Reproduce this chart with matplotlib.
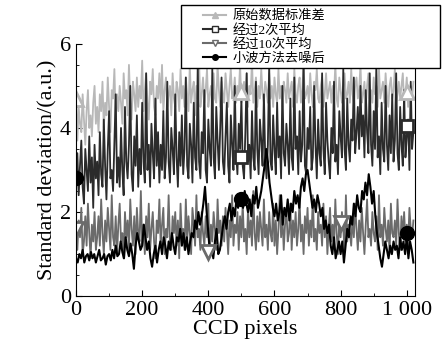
import matplotlib.pyplot as plt
import numpy as np
from matplotlib.lines import Line2D
from matplotlib.patches import Rectangle
from matplotlib.ticker import MultipleLocator

plt.rcParams['font.family'] = ['Liberation Serif', 'Noto Sans CJK SC']
plt.rcParams['axes.unicode_minus'] = False

# CCD 像素位置: 噪声曲线每4个像素一点, 小波曲线每5个像素一点
pixels = np.arange(0, 1024, 4)
pixels_w = np.arange(0, 1025, 5)

# 原始数据标准差
raw_std = [
    4.7, 3.7, 4.5, 4.1, 3.9, 4.8, 4.2, 3.6, 4.4, 4.9, 4.0, 4.3, 3.8, 4.6, 5.0, 4.1,
    4.5, 3.9, 4.8, 4.4, 5.1, 4.0, 4.6, 4.3, 5.2, 4.5, 3.9, 4.9, 4.7, 5.4, 4.2, 4.8,
    4.4, 5.0, 4.6, 4.1, 5.3, 4.7, 4.9, 4.3, 5.5, 4.6, 4.2, 5.1, 4.8, 4.4, 5.2, 4.5,
    5.0, 4.7, 5.6, 4.4, 4.9, 5.3, 4.6, 4.2, 5.1, 4.8, 5.4, 4.5, 4.3, 5.0, 4.7, 5.3,
    4.6, 5.5, 4.4, 4.9, 5.2, 4.5, 4.8, 5.0, 4.3, 5.3, 4.7, 4.5, 5.1, 4.9, 4.4, 5.4,
    4.7, 5.0, 4.5, 5.2, 4.8, 4.4, 5.5, 4.6, 4.9, 5.1, 4.3, 5.0, 4.7, 5.6, 4.5, 4.8,
    5.2, 4.6, 4.9, 5.4, 4.5, 4.8, 5.0, 4.4, 5.3, 4.7, 4.6, 5.5, 4.9, 4.5, 5.1, 4.8,
    4.6, 5.3, 4.9, 4.5, 5.0, 5.4, 4.7, 4.8, 5.2, 4.6, 5.0, 4.8, 5.5, 4.6, 4.9, 5.1,
    4.7, 5.3, 4.5, 5.0, 4.8, 5.6, 4.6, 4.9, 5.2, 4.5, 5.0, 4.7, 5.4, 4.8, 4.6, 5.1,
    4.9, 4.6, 5.3, 4.7, 5.0, 4.5, 5.2, 4.8, 4.6, 5.4, 4.7, 5.0, 4.5, 5.1, 4.9, 4.6,
    5.3, 4.7, 4.9, 5.1, 4.5, 5.4, 4.8, 4.6, 5.0, 5.2, 4.6, 4.9, 5.5, 4.7, 4.8, 5.0,
    4.6, 5.3, 4.8, 4.5, 5.1, 4.9, 5.4, 4.7, 4.6, 5.0, 5.2, 4.5, 4.8, 5.3, 4.7, 4.9,
    5.1, 4.6, 5.0, 4.8, 5.5, 4.7, 4.5, 5.2, 4.9, 4.6, 5.0, 5.3, 4.7, 4.8, 5.1, 4.6,
    5.4, 4.8, 4.6, 5.0, 5.2, 4.7, 4.9, 5.5, 4.6, 4.8, 5.1, 4.5, 5.0, 5.3, 4.7, 4.9,
    4.6, 5.2, 4.8, 5.0, 4.5, 5.4, 4.7, 4.9, 5.1, 4.6, 5.3, 4.8, 4.5, 5.0, 5.2, 4.7,
    4.9, 5.4, 4.6, 4.8, 5.1, 4.7, 5.0, 5.3, 4.6, 4.8, 5.2, 4.5, 4.9, 5.0, 4.7, 5.1,
]

# 经过2次平均
avg2_std = [
    2.9, 3.4, 2.4, 3.1, 3.7, 2.6, 2.2, 3.5, 3.0, 2.5, 3.8, 2.7, 3.3, 2.1, 3.6, 2.8,
    3.2, 2.4, 3.9, 2.9, 2.6, 4.2, 3.1, 2.3, 3.5, 4.4, 2.8, 3.0, 2.5, 3.7, 4.8, 2.7,
    3.3, 2.6, 4.0, 3.0, 2.4, 4.5, 3.2, 2.8, 3.6, 5.0, 2.9, 2.5, 3.8, 3.1, 4.3, 2.6,
    3.5, 2.9, 4.6, 3.2, 2.7, 5.3, 3.0, 3.6, 2.6, 4.1, 3.4, 2.8, 4.7, 3.1, 3.9, 2.7,
    3.6, 3.0, 4.4, 2.8, 3.3, 5.1, 3.2, 2.7, 4.0, 3.5, 2.9, 4.8, 3.3, 2.6, 3.9, 3.1,
    4.3, 2.9, 3.5, 5.2, 3.1, 2.8, 4.1, 3.6, 2.7, 4.6, 3.3, 3.0, 5.5, 3.2, 2.8, 3.9,
    3.4, 4.9, 3.0, 2.7, 4.2, 3.5, 3.1, 5.4, 3.3, 2.8, 4.5, 3.7, 3.0, 4.0, 5.2, 3.2,
    2.9, 3.8, 4.6, 3.1, 2.7, 4.3, 3.6, 3.0, 5.0, 3.4, 2.9, 4.1, 3.5, 4.7, 3.1, 2.8,
    3.9, 5.3, 3.2, 3.6, 2.8, 4.4, 3.3, 3.0, 5.1, 3.5, 2.9, 4.2, 3.7, 3.1, 4.8, 3.3,
    2.8, 3.6, 5.5, 3.2, 3.0, 4.3, 3.5, 2.9, 4.6, 3.3, 3.8, 2.8, 5.0, 3.4, 3.1, 4.1,
    3.6, 2.9, 4.7, 3.3, 3.0, 5.2, 3.5, 3.8, 2.9, 4.4, 3.2, 3.6, 5.6, 3.1, 2.9, 4.0,
    3.5, 4.5, 3.0, 3.3, 5.0, 3.6, 2.8, 4.2, 3.4, 3.1, 5.3, 3.5, 2.9, 4.6, 3.7, 3.2,
    2.8, 4.0, 3.4, 5.1, 3.2, 3.6, 2.9, 4.4, 3.8, 3.3, 5.4, 3.5, 3.0, 4.7, 3.6, 3.2,
    4.2, 3.7, 5.2, 3.4, 3.9, 4.5, 3.5, 5.0, 3.8, 4.3, 3.3, 4.9, 3.9, 3.4, 5.3, 3.6,
    3.1, 4.4, 3.5, 5.5, 3.3, 3.8, 2.9, 4.6, 3.5, 3.2, 5.0, 3.6, 3.0, 4.3, 3.4, 4.8,
    3.2, 3.7, 5.3, 3.4, 3.0, 4.5, 3.6, 3.1, 4.9, 3.3, 3.8, 4.2, 3.0, 5.1, 3.5, 3.9,
]

# 经过10次平均
avg10_std = [
    1.6, 1.1, 1.8, 1.4, 2.1, 1.0, 1.3, 1.9, 1.2, 2.2, 1.5, 0.9, 1.7, 1.3, 2.0, 1.1,
    1.4, 1.9, 1.2, 2.3, 1.5, 1.0, 1.8, 1.3, 2.1, 1.6, 1.1, 2.4, 1.4, 1.2, 1.9, 1.0,
    1.7, 2.2, 1.3, 1.5, 0.9, 2.0, 1.4, 1.8, 1.1, 2.3, 1.6, 1.2, 1.9, 1.0, 2.1, 1.5,
    1.3, 2.5, 1.2, 1.7, 1.0, 1.9, 1.4, 2.2, 1.1, 1.6, 2.0, 1.3, 0.9, 1.8, 1.5, 2.3,
    1.2, 1.7, 2.1, 1.0, 1.6, 1.4, 2.4, 1.3, 1.1, 1.9, 1.5, 2.0, 1.2, 1.8, 0.9, 2.2,
    1.4, 1.6, 1.1, 2.3, 1.3, 1.9, 1.5, 1.0, 2.1, 1.7, 1.2, 2.4, 1.4, 1.6, 1.1, 2.0,
    1.5, 1.2, 1.9, 1.4, 2.2, 1.0, 1.7, 1.3, 2.0, 1.6, 1.1, 2.3, 1.5, 1.8, 1.2, 1.9,
    1.3, 2.1, 1.6, 1.0, 1.8, 1.4, 2.4, 1.2, 1.7, 1.5, 2.0, 1.1, 1.9, 1.4, 2.2, 1.3,
    1.6, 1.0, 2.1, 1.4, 1.8, 1.2, 2.5, 1.5, 1.1, 1.9, 1.3, 2.0, 1.6, 1.2, 2.3, 1.4,
    1.7, 1.1, 2.0, 1.5, 1.3, 2.2, 1.2, 1.8, 1.0, 1.6, 2.4, 1.4, 1.9, 1.1, 1.7, 2.1,
    1.3, 1.5, 2.2, 1.1, 1.8, 1.4, 2.0, 1.2, 1.6, 2.3, 1.3, 1.7, 1.0, 1.9, 1.5, 2.1,
    1.2, 1.8, 1.4, 2.4, 1.3, 1.6, 1.1, 2.0, 1.5, 1.7, 1.2, 2.2, 1.4, 1.9, 1.0, 1.6,
    2.1, 1.3, 1.7, 1.2, 2.3, 1.5, 1.0, 1.8, 1.4, 2.0, 1.6, 1.1, 2.4, 1.3, 1.7, 1.5,
    1.2, 1.9, 1.4, 2.2, 1.6, 1.1, 1.8, 1.3, 2.1, 1.5, 1.0, 1.7, 2.3, 1.4, 1.6, 1.2,
    2.0, 1.5, 1.3, 1.9, 1.1, 2.4, 1.4, 1.7, 1.2, 2.1, 1.6, 1.3, 1.8, 1.0, 2.2, 1.5,
    1.4, 1.8, 1.2, 2.3, 1.5, 1.1, 1.9, 1.4, 2.0, 1.3, 1.7, 1.2, 2.1, 1.6, 1.4, 1.8,
]

# 小波方法去噪后
wavelet_std = [
    0.9, 0.8, 1.0, 0.9, 1.1, 0.8, 0.95, 1.0, 0.85, 1.05, 0.9, 1.0, 0.8, 0.95, 1.1, 0.85, 0.9, 1.0, 0.75, 0.95,
    1.0, 0.85, 1.1, 0.9, 1.2, 0.95, 1.0, 1.3, 1.05, 0.9, 1.4, 1.1, 0.95, 1.25, 1.0, 0.65, 1.2, 1.5, 1.3, 1.1,
    1.2, 1.7, 1.4, 1.1, 1.3, 0.9, 0.7, 1.0, 1.2, 0.8, 1.1, 1.3, 1.0, 1.4, 1.2, 0.9, 1.3, 1.1, 1.5, 1.2,
    1.0, 1.4, 1.3, 1.6, 1.2, 1.5, 1.1, 1.4, 1.0, 1.3, 1.5, 1.4, 1.8, 1.6, 2.0, 1.7, 1.9, 2.2, 2.6, 2.0,
    1.5, 1.0, 1.2, 0.9, 1.3, 1.6, 1.0, 1.1, 1.4, 1.7, 1.9, 1.6, 2.0, 2.2, 1.8, 2.1, 1.9, 2.3, 2.1, 2.4,
    2.3, 2.1, 2.5, 2.2, 2.0, 2.3, 1.9, 2.4, 2.2, 2.6, 2.1, 2.3, 2.5, 2.8, 3.1, 3.5, 3.2, 2.7, 2.4, 2.1,
    1.9, 2.2, 1.8, 2.0, 2.4, 1.7, 2.1, 1.9, 2.3, 1.8, 2.2, 2.0, 2.5, 2.2, 2.4, 2.1, 2.6, 2.8, 2.5, 2.9,
    3.0, 2.7, 2.4, 2.1, 2.3, 2.0, 2.4, 2.2, 1.9, 2.1, 1.6, 1.8, 1.5, 1.7, 1.2, 1.0, 1.4, 0.9, 1.1, 1.3,
    1.0, 1.3, 0.8, 1.2, 1.6, 1.4, 1.9, 1.7, 2.2, 1.9, 2.4, 2.1, 2.0, 2.5, 2.3, 2.7, 2.4, 2.9, 2.6, 2.2,
    2.5, 1.9, 1.5, 1.2, 0.9, 0.7, 1.0, 1.3, 1.1, 0.9, 1.2, 1.0, 1.3, 1.1, 1.2, 0.9, 1.4, 1.1, 1.3, 1.0,
    1.4, 0.9, 1.3, 1.1, 0.8,
]

# 标记点
raw_mx, raw_my = [0, 500, 1000], [4.7, 4.85, 4.85]
avg2_mx, avg2_my = [500, 1000], [3.3, 4.05]
avg10_mx, avg10_my = [0, 400, 800], [1.6, 1.05, 1.75]
wav_mx, wav_my = [0, 500, 1000], [2.8, 2.3, 1.5]

labels = ['原始数据标准差', '经过2次平均', '经过10次平均', '小波方法去噪后']
xtick_vals = [0, 200, 400, 600, 800, 1000]
xtick_text = ['0', '200', '400', '600', '800', '1 000']

c_raw, c_avg2, c_avg10, c_wav = '#b8b8b8', '#2b2b2b', '#6b6b6b', '#000000'

fig = plt.figure(figsize=(4.42, 3.48), dpi=100)
ax = fig.add_axes([0.172, 0.149, 0.767, 0.725])

ax.plot(pixels, raw_std, color=c_raw, lw=1.3)
ax.plot(pixels, avg2_std, color=c_avg2, lw=1.3)
ax.plot(pixels, avg10_std, color=c_avg10, lw=1.3)
ax.plot(pixels_w, wavelet_std, color=c_wav, lw=1.5)

ax.plot(raw_mx, raw_my, ls='none', marker='^', ms=10, mfc='white', mec=c_raw, mew=2)
ax.plot(avg2_mx, avg2_my, ls='none', marker='s', ms=9, mfc='white', mec=c_avg2, mew=2)
ax.plot(avg10_mx, avg10_my, ls='none', marker='v', ms=10, mfc='white', mec=c_avg10, mew=2)
ax.plot(wav_mx, wav_my, ls='none', marker='o', ms=10, color=c_wav)

ax.set_xlim(0, 1025)
ax.set_ylim(0, 6)
ax.set_xticks(xtick_vals)
ax.set_xticklabels(xtick_text)
ax.xaxis.set_minor_locator(MultipleLocator(100))
ax.yaxis.set_minor_locator(MultipleLocator(0.5))
ax.tick_params(which='both', direction='in', labelsize=16, top=False, right=False)
ax.tick_params(which='major', length=4)
ax.tick_params(which='minor', length=2)
ax.spines['top'].set_visible(False)
ax.set_xlabel('CCD pixels', fontsize=16, labelpad=0)
ax.set_ylabel('Standard deviation/(a.u.)', fontsize=16, labelpad=2)

# 图例: 外框单独画, 图例本身不加框
fig.patches.append(Rectangle((181 / 442, 1 - 68 / 348), 259 / 442, 63 / 348,
                             transform=fig.transFigure, facecolor='white',
                             edgecolor='black', lw=1.0, zorder=5))
handles = [
    Line2D([], [], color=c_raw, lw=1.5, marker='^', ms=4),
    Line2D([], [], color=c_avg2, lw=1.5, marker='s', ms=4, mfc='white'),
    Line2D([], [], color=c_avg10, lw=1.5, marker='v', ms=4, mfc='white'),
    Line2D([], [], color=c_wav, lw=1.5, marker='o', ms=4),
]
leg = fig.legend(handles, labels, loc='upper left',
                 bbox_to_anchor=(200 / 442, 1 - 7 / 348),
                 fontsize=9.5, frameon=False, handlelength=1.8,
                 handletextpad=0.5, labelspacing=0.12, borderpad=0.2,
                 borderaxespad=0)
leg.set_zorder(6)

plt.savefig('out.png', dpi=100)
